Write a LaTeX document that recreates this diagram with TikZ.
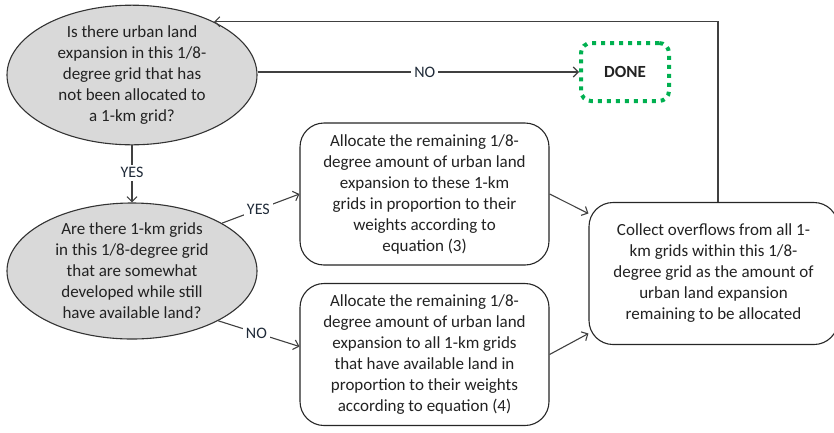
\documentclass[tikz,border=0pt]{standalone}
\usepackage{fontspec}
\setmainfont{Carlito}
\usetikzlibrary{shapes.geometric,arrows.meta,calc}
\definecolor{txt}{HTML}{222222}
\definecolor{lbl}{HTML}{1F2A38}
\definecolor{grayfill}{HTML}{D9D9D9}
\definecolor{donegreen}{HTML}{00B050}
\begin{document}
\begin{tikzpicture}[x=1pt,y=-1pt,
  every node/.style={text=txt,font=\fontsize{17}{21}\selectfont,align=center},
  decision/.style={ellipse,draw=black!80,line width=1.1pt,fill=grayfill,minimum width=250pt,minimum height=136pt,inner sep=0pt},
  procbox/.style={rectangle,rounded corners=24pt,draw=black!85,line width=1.1pt,fill=white,minimum width=249pt,minimum height=142pt,inner sep=0pt},
  donebox/.style={rectangle,rounded corners=10pt,draw=donegreen,line width=4pt,dash pattern=on 4pt off 5pt,minimum width=88pt,minimum height=58pt,font=\fontsize{17}{21}\selectfont\bfseries},
  conn/.style={draw=black!75,line width=1.1pt,-{Straight Barb[length=5pt,width=10pt,line width=1.1pt]}},
  lab/.style={fill=white,text=lbl,inner sep=3pt,font=\fontsize{16}{19}\selectfont}
]
\useasboundingbox (0,0) rectangle (834,432);
\node[decision] (e1) at (132,75) {Is there urban land\\expansion in this 1/8-\\degree grid that has\\not been allocated to\\a 1-km grid?};
\node[decision] (e2) at (132,271) {Are there 1-km grids\\in this 1/8-degree grid\\that are somewhat\\developed while still\\have available land?};
\node[procbox] (b1) at (424.5,194) {Allocate the remaining 1/8-\\degree amount of urban land\\expansion to these 1-km\\grids in proportion to their\\weights according to\\equation (3)};
\node[procbox] (b2) at (424.5,354.5) {Allocate the remaining 1/8-\\degree amount of urban land\\expansion to all 1-km grids\\that have available land in\\proportion to their weights\\according to equation (4)};
\node[procbox] (b3) at (713.5,273.5) {Collect overflows from all 1-\\km grids within this 1/8-\\degree grid as the amount of\\urban land expansion\\remaining to be allocated};
\node[donebox] (done) at (625,72) {DONE};
\draw[conn] (e1.east |- done.west) -- node[lab,pos=0.52]{NO} (done.west);
\draw[conn] (e1.south) -- node[lab,pos=0.48]{YES} (e2.north);
\draw[conn] (e2.28) -- node[lab,pos=0.47]{YES} (b1.west);
\draw[conn] (e2.-30) -- node[lab,pos=0.47]{NO} ([yshift=8]b2.west);
\draw[conn] (b1.east) -- ([yshift=60]b3.west);
\draw[conn] (b2.east) -- ([yshift=-60]b3.west);
\draw[conn] ([xshift=4.5]b3.north) |- (e1.33);
\end{tikzpicture}
\end{document}
